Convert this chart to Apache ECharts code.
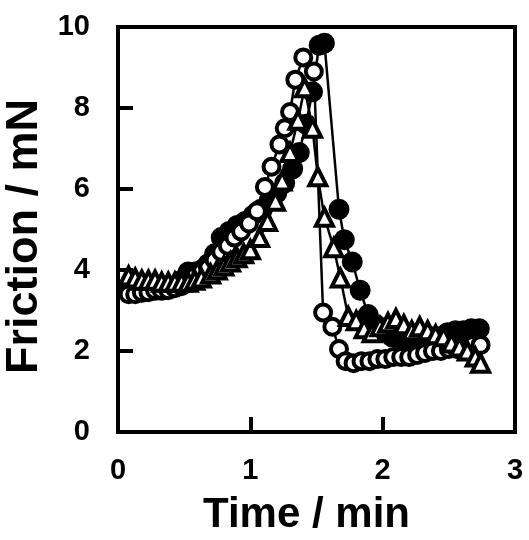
<!DOCTYPE html>
<html>
<head>
<meta charset="utf-8">
<script src="https://cdn.jsdelivr.net/npm/echarts@6/dist/echarts.min.js"></script>
<style>html,body{margin:0;padding:0;background:#fff}#c{width:529px;height:540px}</style>
</head>
<body>
<div id="c"></div>
<script>
// Filled circles
const timeFilled = [0.08,0.13,0.18,0.23,0.28,0.33,0.38,0.43,0.48,0.53,0.58,0.63,0.68,0.73,0.78,0.84,0.90,0.96,1.02,1.08,1.14,1.20,1.26,1.32,1.37,1.42,1.47,1.52,1.56,1.67,1.71,1.77,1.83,1.89,1.95,2.01,2.07,2.13,2.19,2.25,2.31,2.37,2.43,2.49,2.55,2.61,2.67,2.73];
const frictionFilled = [3.55,3.45,3.45,3.5,3.5,3.5,3.55,3.6,3.75,3.95,3.95,4.0,4.15,4.4,4.8,4.95,5.1,5.2,5.35,5.5,5.7,5.9,6.15,6.5,6.9,7.6,8.4,9.55,9.6,5.5,4.75,4.2,3.5,2.9,2.65,2.5,2.35,2.3,2.3,2.25,2.3,2.35,2.35,2.45,2.5,2.5,2.55,2.55];
// Open circles
const timeOpen = [0.08,0.13,0.18,0.23,0.28,0.33,0.38,0.43,0.48,0.53,0.58,0.63,0.68,0.73,0.78,0.83,0.88,0.93,0.99,1.05,1.11,1.16,1.22,1.26,1.30,1.34,1.40,1.48,1.55,1.62,1.67,1.72,1.78,1.84,1.90,1.96,2.02,2.08,2.14,2.20,2.26,2.32,2.38,2.44,2.50,2.56,2.62,2.68,2.74];
const frictionOpen = [3.4,3.4,3.45,3.45,3.5,3.5,3.5,3.55,3.6,3.7,3.85,3.95,4.05,4.25,4.45,4.6,4.8,4.95,5.15,5.45,6.05,6.55,7.1,7.5,7.9,8.7,9.25,8.9,2.95,2.6,2.05,1.75,1.7,1.75,1.75,1.8,1.8,1.85,1.85,1.85,1.9,1.95,2.0,2.0,2.05,2.05,2.1,2.15,2.15];
// Open triangles
const timeTri = [0.08,0.13,0.18,0.23,0.28,0.33,0.38,0.43,0.48,0.53,0.58,0.63,0.70,0.75,0.80,0.85,0.90,0.95,1.00,1.07,1.13,1.19,1.24,1.30,1.36,1.41,1.47,1.51,1.56,1.63,1.68,1.74,1.80,1.86,1.92,1.98,2.04,2.10,2.16,2.22,2.28,2.34,2.40,2.46,2.52,2.58,2.64,2.70,2.74];
const frictionTri = [3.85,3.8,3.75,3.75,3.75,3.7,3.7,3.7,3.7,3.7,3.75,3.8,3.9,4.0,4.1,4.2,4.3,4.4,4.5,4.8,5.2,5.7,6.2,6.9,7.7,8.5,7.5,6.3,5.3,4.55,3.8,2.85,2.75,2.55,2.45,2.6,2.7,2.8,2.65,2.5,2.6,2.5,2.4,2.35,2.2,2.1,2.0,1.85,1.7];
const xTicks = [0,1,2,3];
const yTicks = [0,2,4,6,8,10];

const pair = (t, v) => t.map((x, i) => [x, v[i]]);
const font = '"Liberation Sans", Arial, sans-serif';
const chart = echarts.init(document.getElementById('c'), null, {renderer: 'canvas'});
const axisCommon = {
  axisLine: {show: true, lineStyle: {color: '#000', width: 4}},
  axisTick: {show: true, inside: true, length: 15, lineStyle: {color: '#000', width: 4}},
  splitLine: {show: false},
  axisLabel: {fontFamily: font, fontWeight: 'bold', fontSize: 29, color: '#000'}
};
chart.setOption({
  animation: false,
  backgroundColor: '#fff',
  grid: {left: 118, right: 14, top: 27, bottom: 108, show: true, borderColor: '#000', borderWidth: 4,
         containLabel: false, outerBoundsMode: 'none'},
  xAxis: Object.assign({}, axisCommon, {
    type: 'value', min: 0, max: 3, interval: 1,
    name: 'Time / min', nameLocation: 'middle', nameGap: 62,
    nameTextStyle: {fontFamily: font, fontWeight: 'bold', fontSize: 42, color: '#000', padding: [0, 20, 0, 0]},
    axisLabel: Object.assign({}, axisCommon.axisLabel, {margin: 24, formatter: v => xTicks.includes(v) ? String(v) : ''})
  }),
  yAxis: Object.assign({}, axisCommon, {
    type: 'value', min: 0, max: 10, interval: 2,
    name: 'Friction / mN', nameLocation: 'middle', nameGap: 70, nameRotate: 90,
    nameTextStyle: {fontFamily: font, fontWeight: 'bold', fontSize: 45, color: '#000', padding: [0, 14, 0, 0]},
    axisLabel: Object.assign({}, axisCommon.axisLabel, {margin: 28, formatter: v => yTicks.includes(v) ? String(v) : ''})
  }),
  series: [
    {type: 'line', data: pair(timeFilled, frictionFilled), symbol: 'circle', symbolSize: 19,
     lineStyle: {color: '#000', width: 2.5}, itemStyle: {color: '#000', borderColor: '#000', borderWidth: 2}},
    {type: 'line', data: pair(timeOpen, frictionOpen), symbol: 'circle', symbolSize: 16,
     lineStyle: {color: '#000', width: 2.5}, itemStyle: {color: '#fff', borderColor: '#000', borderWidth: 4}},
    {type: 'line', data: pair(timeTri, frictionTri), symbol: 'triangle', symbolSize: 17,
     lineStyle: {color: '#000', width: 2.5}, itemStyle: {color: '#fff', borderColor: '#000', borderWidth: 4}}
  ]
});
</script>
</body>
</html>
